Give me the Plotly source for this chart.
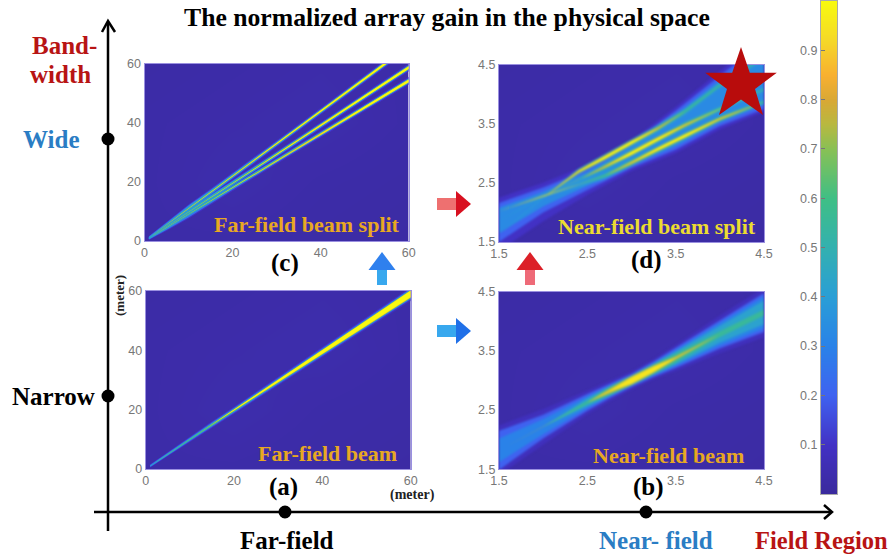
import plotly.graph_objects as go
from plotly.colors import sample_colorscale

W, H = 893, 560

COLORSCALE = [[0, '#3a2a9c'], [0.1, '#4231c4'], [0.2, '#3f62f0'], [0.3, '#2a82e8'], [0.4, '#2a9ed6'],
              [0.5, '#33b0b0'], [0.6, '#3fbf85'], [0.7, '#88c055'], [0.75, '#b8b840'], [0.8, '#d8a835'],
              [0.85, '#f8b030'], [0.92, '#f5d828'], [1, '#f8fa0f']]

CB_LEVELS = [0, 0.05, 0.1, 0.15, 0.2, 0.25, 0.3, 0.35, 0.4, 0.45, 0.5, 0.55, 0.6, 0.65, 0.7, 0.75, 0.8, 0.85, 0.9, 0.95, 1]
CB_TICKS = [0.1, 0.2, 0.3, 0.4, 0.5, 0.6, 0.7, 0.8, 0.9]
FAR_TICKS = [0, 20, 40, 60]
NEAR_TICKS = [1.5, 2.5, 3.5, 4.5]

BG_FAR_AXIS = [0, 20, 40, 60]
BG_NEAR_AXIS = [1.5, 2.5, 3.5, 4.5]
BG_Z = [[0.03, 0.03, 0.025, 0.02], [0.03, 0.04, 0.03, 0.025], [0.03, 0.035, 0.04, 0.03], [0.025, 0.03, 0.035, 0.03]]

# Panel (a) far-field beam
A_X = [1, 5, 10, 15, 20, 25, 30, 40, 50, 60]
A_CENTRE = [1, 5, 10, 15, 19.8, 24.7, 29.6, 39.4, 49.2, 59]
A_LEVELS = [0.08, 0.16, 0.28, 0.42, 0.55, 0.7, 0.85, 1.0]
A_HW = [[0.6, 0.8, 1.0, 1.2, 1.3, 1.4, 1.5, 1.75, 2.05, 2.35],
        [0.4, 0.55, 0.7, 0.85, 0.95, 1.05, 1.1, 1.3, 1.6, 1.9],
        [0.25, 0.4, 0.5, 0.6, 0.68, 0.75, 0.85, 1.05, 1.35, 1.65],
        [0.12, 0.25, 0.35, 0.45, 0.52, 0.58, 0.68, 0.88, 1.15, 1.5],
        [0, 0.1, 0.2, 0.3, 0.4, 0.46, 0.56, 0.76, 1.02, 1.35],
        [0, 0, 0, 0.12, 0.28, 0.34, 0.46, 0.66, 0.92, 1.25],
        [0, 0, 0, 0, 0.14, 0.26, 0.38, 0.58, 0.84, 1.15],
        [0, 0, 0, 0, 0, 0.16, 0.3, 0.5, 0.76, 1.05]]

# Panel (c) far-field beam split
C_X = [1, 5, 10, 15, 20, 30, 40, 50, 60]
C_TOP = [1.1, 5.5, 11, 16.5, 22, 33, 44, 55, 66]
C_MID = [1, 4.9, 9.8, 14.7, 19.6, 29.4, 39.2, 49, 58.8]
C_LOW = [0.9, 4.5, 9.05, 13.6, 18.1, 27.2, 36.2, 45.3, 54.3]
C_LEVELS = [0.1, 0.25, 0.4, 0.55, 0.7, 0.9, 1.0]
C_HW = [[0.6, 1.1, 1.5, 1.3, 1.2, 1.15, 1.15, 1.25, 1.35],
        [0.4, 0.8, 1.1, 0.9, 0.75, 0.7, 0.7, 0.8, 0.9],
        [0.2, 0.55, 0.75, 0.6, 0.5, 0.5, 0.55, 0.62, 0.7],
        [0, 0, 0.2, 0.3, 0.34, 0.38, 0.45, 0.52, 0.6],
        [0, 0, 0, 0, 0, 0.22, 0.38, 0.45, 0.52],
        [0, 0, 0, 0, 0, 0, 0.25, 0.38, 0.45],
        [0, 0, 0, 0, 0, 0, 0, 0.28, 0.38]]

# Panel (b) near-field beam
B_X = [1.5, 2, 2.5, 2.75, 3, 3.25, 3.5, 4, 4.5]
B_CENTRE = [1.82, 2.22, 2.63, 2.82, 3.0, 3.19, 3.38, 3.78, 4.15]
B_LEVELS = [0.08, 0.2, 0.3, 0.42, 0.55, 0.75, 0.95]
B_HW = [[0.42, 0.3, 0.2, 0.17, 0.15, 0.17, 0.22, 0.32, 0.42],
        [0.33, 0.2, 0.14, 0.12, 0.11, 0.13, 0.17, 0.24, 0.33],
        [0.2, 0.13, 0.1, 0.09, 0.09, 0.1, 0.13, 0.19, 0.27],
        [0, 0, 0.07, 0.08, 0.08, 0.09, 0.11, 0.14, 0.2],
        [0, 0, 0.03, 0.07, 0.08, 0.08, 0.08, 0.05, 0.05],
        [0, 0, 0, 0.04, 0.07, 0.065, 0.03, 0, 0],
        [0, 0, 0, 0.012, 0.055, 0.045, 0.005, 0, 0]]

# Panel (d) near-field beam split
D_ENV_X = [1.5, 2, 2.5, 3, 3.5, 4, 4.5]
D_ENV_LEVELS = [0.1, 0.2, 0.33]
D_ENV_UP = [[2.25, 2.5, 2.8, 3.22, 3.78, 4.38, 5.0],
            [2.16, 2.42, 2.72, 3.17, 3.72, 4.3, 4.9],
            [2.08, 2.35, 2.68, 3.12, 3.65, 4.22, 4.82]]
D_ENV_LO = [[1.35, 1.85, 2.3, 2.7, 3.0, 3.4, 3.7],
            [1.5, 2.0, 2.38, 2.75, 3.06, 3.46, 3.75],
            [1.65, 2.1, 2.45, 2.8, 3.12, 3.52, 3.82]]
D_X = [1.5, 2, 2.4, 2.7, 3, 3.3, 3.6, 4, 4.5]
D_TOP = [1.62, 2.25, 2.69, 2.93, 3.18, 3.42, 3.7, 4.15, 4.62]
D_MID = [1.85, 2.28, 2.55, 2.77, 3.0, 3.24, 3.47, 3.75, 4.08]
D_LOW = [2.02, 2.28, 2.47, 2.62, 2.84, 3.07, 3.29, 3.58, 3.87]
D_LEVELS = [0.38, 0.55, 0.8, 1.0]
D_HW_BASE = [0.0, 0.02, 0.05, 0.06, 0.06, 0.06, 0.06, 0.05, 0.05]
D_TOP_HW = [D_HW_BASE,
            [0, 0, 0.03, 0.045, 0.045, 0.04, 0.03, 0.02, 0.012],
            [0, 0, 0.022, 0.032, 0.032, 0.02, 0, 0, 0],
            [0, 0, 0.012, 0.024, 0.024, 0.004, 0, 0, 0]]
D_MID_HW = [D_HW_BASE,
            [0, 0, 0, 0.04, 0.045, 0.045, 0.045, 0.025, 0.012],
            [0, 0, 0, 0.015, 0.033, 0.033, 0.02, 0, 0],
            [0, 0, 0, 0.004, 0.024, 0.024, 0.006, 0, 0]]
D_LOW_HW = [D_HW_BASE,
            [0, 0, 0, 0.025, 0.045, 0.045, 0.045, 0.04, 0.015],
            [0, 0, 0, 0, 0.022, 0.033, 0.033, 0.02, 0],
            [0, 0, 0, 0, 0.006, 0.024, 0.024, 0.006, 0]]

fig = go.Figure()


def colour(v):
    return sample_colorscale(COLORSCALE, [v])[0]


def band(x, up, lo, level, xa, ya):
    fig.add_trace(go.Scatter(x=list(x) + list(x)[::-1], y=list(up) + list(lo)[::-1], xaxis=xa, yaxis=ya,
                             mode='lines', fill='toself', fillcolor=colour(level), line=dict(width=0),
                             hoverinfo='skip', showlegend=False))


def ribbon(x, centre, hw, level, xa, ya):
    band(x, [c + h for c, h in zip(centre, hw)], [c - h for c, h in zip(centre, hw)], level, xa, ya)


def background(axis, xa, ya):
    fig.add_trace(go.Heatmap(x=axis, y=axis, z=BG_Z, xaxis=xa, yaxis=ya, colorscale=COLORSCALE, zmin=0, zmax=1,
                             zsmooth='best', showscale=False, hoverinfo='skip'))


background(BG_FAR_AXIS, 'x', 'y')
for lev, hw in zip(C_LEVELS, C_HW):
    for centre in (C_LOW, C_MID, C_TOP):
        ribbon(C_X, centre, hw, lev, 'x', 'y')

background(BG_NEAR_AXIS, 'x2', 'y2')
for lev, up, lo in zip(D_ENV_LEVELS, D_ENV_UP, D_ENV_LO):
    band(D_ENV_X, up, lo, lev, 'x2', 'y2')
for i, lev in enumerate(D_LEVELS):
    for centre, hws in ((D_LOW, D_LOW_HW), (D_MID, D_MID_HW), (D_TOP, D_TOP_HW)):
        ribbon(D_X, centre, hws[i], lev, 'x2', 'y2')

background(BG_FAR_AXIS, 'x3', 'y3')
for lev, hw in zip(A_LEVELS, A_HW):
    ribbon(A_X, A_CENTRE, hw, lev, 'x3', 'y3')

background(BG_NEAR_AXIS, 'x4', 'y4')
for lev, hw in zip(B_LEVELS, B_HW):
    ribbon(B_X, B_CENTRE, hw, lev, 'x4', 'y4')

fig.add_trace(go.Heatmap(x=[0, 1], y=CB_LEVELS, z=[[v, v] for v in CB_LEVELS], xaxis='x5', yaxis='y5',
                         colorscale=COLORSCALE, zmin=0, zmax=1, zsmooth='best', showscale=False, hoverinfo='skip'))


def px_x(x):
    return x / W


def px_y(y):
    return 1 - y / H


TICKFONT = dict(family='Liberation Sans', size=12.5, color='#777777')


def axes(n, l, r, t, b, rng, ticks):
    sfx = '' if n == 1 else str(n)
    common = dict(range=rng, tickvals=ticks, ticktext=[str(v) for v in ticks], tickfont=TICKFONT, ticks='',
                  showgrid=False, zeroline=False, showline=True, linecolor='#9a90e0', linewidth=1, mirror=True)
    fig.update_layout(**{
        'xaxis' + sfx: dict(domain=[px_x(l), px_x(r)], anchor='y' + sfx, **common),
        'yaxis' + sfx: dict(domain=[px_y(b), px_y(t)], anchor='x' + sfx, **common),
    })


axes(1, 144.5, 408.7, 64, 241, [0, 60], FAR_TICKS)
axes(2, 499, 764, 64.5, 242, [1.5, 4.5], NEAR_TICKS)
axes(3, 145.7, 410.7, 291, 469, [0, 60], FAR_TICKS)
axes(4, 499, 764, 291.7, 469.3, [1.5, 4.5], NEAR_TICKS)
fig.update_layout(
    xaxis5=dict(domain=[px_x(821), px_x(837)], anchor='y5', range=[0, 1], showticklabels=False, ticks='',
                showgrid=False, zeroline=False, showline=True, linecolor='#aaaaaa', mirror=True),
    yaxis5=dict(domain=[px_y(494), px_y(1)], anchor='x5', range=[0, 1], tickvals=CB_TICKS,
                ticktext=[str(v) for v in CB_TICKS], tickfont=TICKFONT, ticks='inside', ticklen=4,
                tickcolor='#777777', showgrid=False, zeroline=False, showline=True, linecolor='#aaaaaa', mirror=True),
)


def poly(points, color, close=True):
    d = 'M ' + ' L '.join(f'{px_x(x):.5f},{px_y(y):.5f}' for x, y in points) + (' Z' if close else '')
    return dict(type='path', xref='paper', yref='paper', path=d, fillcolor=color if close else 'rgba(0,0,0,0)',
                line=dict(width=0 if close else 2.5, color=color if not close else 'rgba(0,0,0,0)'))


def line(x0, y0, x1, y1):
    return dict(type='line', xref='paper', yref='paper', x0=px_x(x0), x1=px_x(x1), y0=px_y(y0), y1=px_y(y1),
                line=dict(color='black', width=2.5))


def dot(x, y, r=6.5):
    return dict(type='circle', xref='paper', yref='paper', x0=px_x(x - r), x1=px_x(x + r), y0=px_y(y + r),
                y1=px_y(y - r), fillcolor='black', line=dict(width=0))


def arrow_up(x, tip, stem_col, head_col):
    return [poly([(x - 5, 270), (x + 5, 270), (x + 5, 285), (x - 5, 285)], stem_col),
            poly([(x, tip), (x + 13.5, 270), (x - 13.5, 270)], head_col)]


def arrow_right(y, stem_col, head_col):
    return [poly([(437, y - 6), (456, y - 6), (456, y + 6), (437, y + 6)], stem_col),
            poly([(471, y), (456, y + 13), (456, y - 13)], head_col)]


STAR = [(741, 47), (749.8, 72.8), (776.8, 72.8), (755, 89), (763, 115), (741, 99.5), (719, 115), (727, 89),
        (705.2, 72.8), (732.2, 72.8)]

shapes = [line(108, 22, 108, 531), line(94, 512, 830, 512),
          poly([(102, 32), (108, 21), (115, 32)], 'black', close=False),
          poly([(824, 505), (832, 512), (824, 519)], 'black', close=False),
          dot(108, 139), dot(108, 396), dot(285, 512), dot(646, 512),
          poly(STAR, '#b80c0c')]
shapes += arrow_up(382, 252, '#38a8ee', '#2f80ee')
shapes += arrow_up(530, 252, '#ee6a78', '#dc2028')
shapes += arrow_right(331, '#38a8ee', '#2070e8')
shapes += arrow_right(204, '#ee7070', '#d81020')
fig.update_layout(shapes=shapes)

SERIF = 'Liberation Serif'
BLUE = '#2a7dc4'
RED = '#b81414'
TEXTS = [
    ('The normalized array gain in the physical space', 447, 17, 25.7, 'black'),
    ('Band-', 64, 45, 25, RED), ('width', 61, 75, 25, RED),
    ('Wide', 51, 139, 25, BLUE), ('Narrow', 53, 396, 25, 'black'),
    ('(c)', 285, 263, 25, 'black'), ('(d)', 646, 260, 25, 'black'),
    ('(a)', 283, 487, 25, 'black'), ('(b)', 648, 487, 25, 'black'),
    ('Far-field', 287, 540, 25, 'black'), ('Near- field', 656, 540, 25, BLUE),
    ('Field Region', 821, 540, 24.5, RED),
    ('Far-field beam split', 307, 224, 22, '#e8a822'), ('Near-field beam split', 657, 226, 22, '#ecdc30'),
    ('Far-field beam', 327, 453, 22, '#e8a822'), ('Near-field beam', 668, 455, 22, '#e8a822'),
    ('(meter)', 412, 495, 14, '#222222'),
]
ann = [dict(text=f'<b>{t}</b>', x=px_x(x), y=px_y(y), xref='paper', yref='paper', xanchor='center', yanchor='middle',
            showarrow=False, font=dict(family=SERIF, size=s, color=c)) for t, x, y, s, c in TEXTS]
ann.append(dict(text='<b>(meter)</b>', x=px_x(119), y=px_y(296), xref='paper', yref='paper', textangle=-90,
                xanchor='center', yanchor='middle', showarrow=False, font=dict(family=SERIF, size=13, color='#222222')))
fig.update_layout(annotations=ann, width=W, height=H, margin=dict(l=0, r=0, t=0, b=0, pad=0, autoexpand=False),
                  paper_bgcolor='white', plot_bgcolor='white', showlegend=False)

POST = """
var s=document.createElement('style');
s.textContent='html,body{margin:0 !important;padding:0 !important;background:#fff;overflow:hidden;}'
 +'.modebar-container{display:none !important;}'
 +'.subplot.xy .scatterlayer,.subplot.x3y3 .scatterlayer{filter:blur(0.6px);}'
 +'.subplot.x2y2 .scatterlayer{filter:blur(0.8px);}'
 +'.subplot.x4y4 .scatterlayer{filter:blur(1.2px);}';
document.head.appendChild(s);
"""
fig.write_html("out.html", post_script=POST)
